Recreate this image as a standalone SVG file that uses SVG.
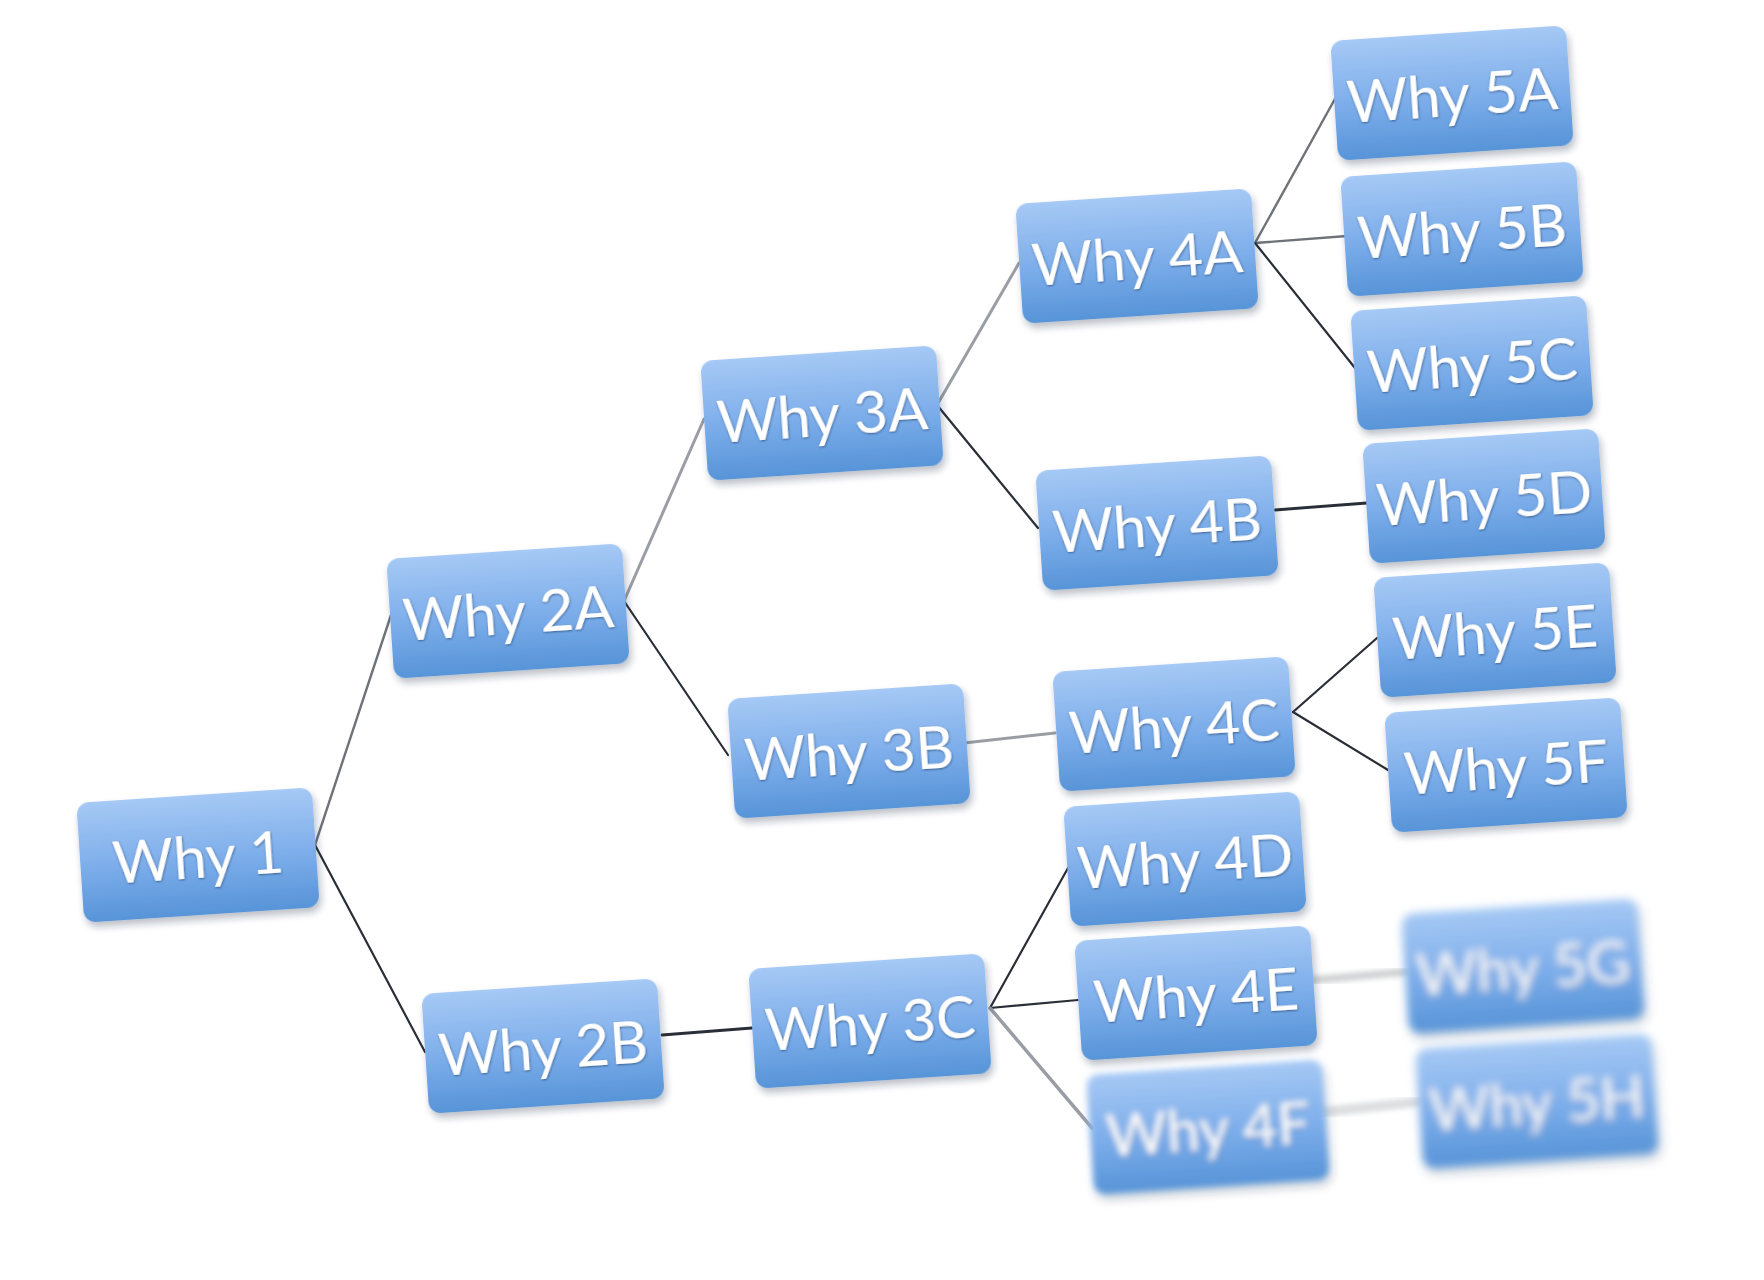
<svg xmlns="http://www.w3.org/2000/svg" width="1764" height="1280" viewBox="0 0 1764 1280">
<defs>
<linearGradient id="g" x1="0" y1="0" x2="0" y2="1">
<stop offset="0" stop-color="#a6c9f5"/>
<stop offset="0.55" stop-color="#7cadea"/>
<stop offset="1" stop-color="#5794d8"/>
</linearGradient>
<filter id="sh" x="-20%" y="-30%" width="140%" height="170%">
<feDropShadow dx="2" dy="5" stdDeviation="3.5" flood-color="#1a2c44" flood-opacity="0.3"/>
</filter>
<filter id="ts" x="-10%" y="-30%" width="120%" height="160%">
<feDropShadow dx="0.5" dy="1" stdDeviation="1.2" flood-color="#1d3d66" flood-opacity="0.7"/>
</filter>
<filter id="b1" x="-20%" y="-30%" width="140%" height="170%"><feGaussianBlur stdDeviation="3"/></filter>
<filter id="b2" x="-20%" y="-30%" width="140%" height="170%"><feGaussianBlur stdDeviation="4.5"/></filter>
<filter id="bl" x="-10%" y="-50%" width="120%" height="200%"><feGaussianBlur stdDeviation="2.5"/></filter>
</defs>
<style>
.box{fill:url(#g);filter:url(#sh)}
.lbl{font-family:Lato,"Open Sans","Liberation Sans",sans-serif;font-size:59px;fill:#ffffff;text-anchor:middle;filter:url(#ts)}
.c{fill:none;stroke-linecap:round}
.d{stroke:#2a2e36;stroke-width:2.2}
.m{stroke:#6f7378;stroke-width:2.4}
.l{stroke:#9a9ea4;stroke-width:3}
.f{stroke:#d0d2d4;stroke-width:8}
</style>
<rect width="1764" height="1280" fill="#ffffff"/>
<g id="connectors">
<line class="c m" x1="315" y1="845" x2="391" y2="615"/>
<line class="c d" x1="315" y1="845" x2="425" y2="1052"/>
<line class="c l" x1="624" y1="601" x2="704" y2="419"/>
<line class="c d" x1="624" y1="601" x2="728" y2="755"/>
<line class="c l" x1="937" y1="405" x2="1019" y2="263"/>
<line class="c d" x1="937" y1="405" x2="1038" y2="528"/>
<line class="c m" x1="1255" y1="243" x2="1336" y2="97"/>
<line class="c m" x1="1255" y1="243" x2="1347" y2="236"/>
<line class="c d" x1="1255" y1="243" x2="1355" y2="368"/>
<line class="c d" x1="1275" y1="510" x2="1367" y2="503" style="stroke-width:2.8"/>
<line class="c l" x1="964" y1="743" x2="1055" y2="733"/>
<line class="c d" x1="1293" y1="712" x2="1377" y2="638"/>
<line class="c d" x1="1293" y1="712" x2="1388" y2="770"/>
<line class="c d" x1="662" y1="1035" x2="752" y2="1028" style="stroke-width:2.8"/>
<line class="c d" x1="990" y1="1008" x2="1068" y2="868"/>
<line class="c d" x1="990" y1="1008" x2="1078" y2="1000"/>
<line class="c l" x1="990" y1="1008" x2="1092" y2="1128" style="stroke-width:3.5"/>
<line class="c f" x1="1313" y1="980" x2="1405" y2="972" filter="url(#bl)"/>
<line class="c f" x1="1323" y1="1112" x2="1417" y2="1102" style="stroke:#dcdee0;stroke-width:10" filter="url(#bl)"/>
</g>
<g id="why1" transform="translate(198,855) rotate(-3.8)"><rect class="box" x="-118" y="-60" width="236" height="120" rx="12"/><text class="lbl" x="0" y="23">Why 1</text></g>
<g id="why2a" transform="translate(508,611) rotate(-3.8)"><rect class="box" x="-118" y="-60" width="236" height="120" rx="12"/><text class="lbl" x="0" y="23">Why 2A</text></g>
<g id="why2b" transform="translate(543,1046) rotate(-3.8)"><rect class="box" x="-118" y="-60" width="236" height="120" rx="12"/><text class="lbl" x="0" y="23">Why 2B</text></g>
<g id="why3a" transform="translate(822,413) rotate(-3.8)"><rect class="box" x="-118" y="-60" width="236" height="120" rx="12"/><text class="lbl" x="0" y="23">Why 3A</text></g>
<g id="why3b" transform="translate(849,751) rotate(-3.8)"><rect class="box" x="-118" y="-60" width="236" height="120" rx="12"/><text class="lbl" x="0" y="23">Why 3B</text></g>
<g id="why3c" transform="translate(870,1021) rotate(-3.8)"><rect class="box" x="-118" y="-60" width="236" height="120" rx="12"/><text class="lbl" x="0" y="23">Why 3C</text></g>
<g id="why4a" transform="translate(1137,256) rotate(-3.8)"><rect class="box" x="-118" y="-60" width="236" height="120" rx="12"/><text class="lbl" x="0" y="23">Why 4A</text></g>
<g id="why4b" transform="translate(1157,523) rotate(-3.8)"><rect class="box" x="-118" y="-60" width="236" height="120" rx="12"/><text class="lbl" x="0" y="23">Why 4B</text></g>
<g id="why4c" transform="translate(1174,724) rotate(-3.8)"><rect class="box" x="-118" y="-60" width="236" height="120" rx="12"/><text class="lbl" x="0" y="23">Why 4C</text></g>
<g id="why4d" transform="translate(1185,859) rotate(-3.8)"><rect class="box" x="-118" y="-60" width="236" height="120" rx="12"/><text class="lbl" x="0" y="23">Why 4D</text></g>
<g id="why4e" transform="translate(1196,993) rotate(-3.8)"><rect class="box" x="-118" y="-60" width="236" height="120" rx="12"/><text class="lbl" x="0" y="23">Why 4E</text></g>
<g id="why4f" filter="url(#b1)"><g transform="translate(1208,1127) rotate(-3.8)"><rect class="box" x="-118" y="-60" width="236" height="120" rx="12"/><text class="lbl" x="0" y="23">Why 4F</text></g></g>
<g id="why5a" transform="translate(1452,93) rotate(-3.8)"><rect class="box" x="-118" y="-60" width="236" height="120" rx="12"/><text class="lbl" x="0" y="23">Why 5A</text></g>
<g id="why5b" transform="translate(1462,229) rotate(-3.8)"><rect class="box" x="-118" y="-60" width="236" height="120" rx="12"/><text class="lbl" x="0" y="23">Why 5B</text></g>
<g id="why5c" transform="translate(1472,363) rotate(-3.8)"><rect class="box" x="-118" y="-60" width="236" height="120" rx="12"/><text class="lbl" x="0" y="23">Why 5C</text></g>
<g id="why5d" transform="translate(1484,496) rotate(-3.8)"><rect class="box" x="-118" y="-60" width="236" height="120" rx="12"/><text class="lbl" x="0" y="23">Why 5D</text></g>
<g id="why5e" transform="translate(1495,630) rotate(-3.8)"><rect class="box" x="-118" y="-60" width="236" height="120" rx="12"/><text class="lbl" x="0" y="23">Why 5E</text></g>
<g id="why5f" transform="translate(1506,765) rotate(-3.8)"><rect class="box" x="-118" y="-60" width="236" height="120" rx="12"/><text class="lbl" x="0" y="23">Why 5F</text></g>
<g id="why5g" filter="url(#b2)"><g transform="translate(1523,966) rotate(-3.8)"><rect class="box" x="-118" y="-60" width="236" height="120" rx="12"/><text class="lbl" x="0" y="23">Why 5G</text></g></g>
<g id="why5h" filter="url(#b2)"><g transform="translate(1537,1101) rotate(-3.8)"><rect class="box" x="-118" y="-60" width="236" height="120" rx="12"/><text class="lbl" x="0" y="23">Why 5H</text></g></g>
</svg>
